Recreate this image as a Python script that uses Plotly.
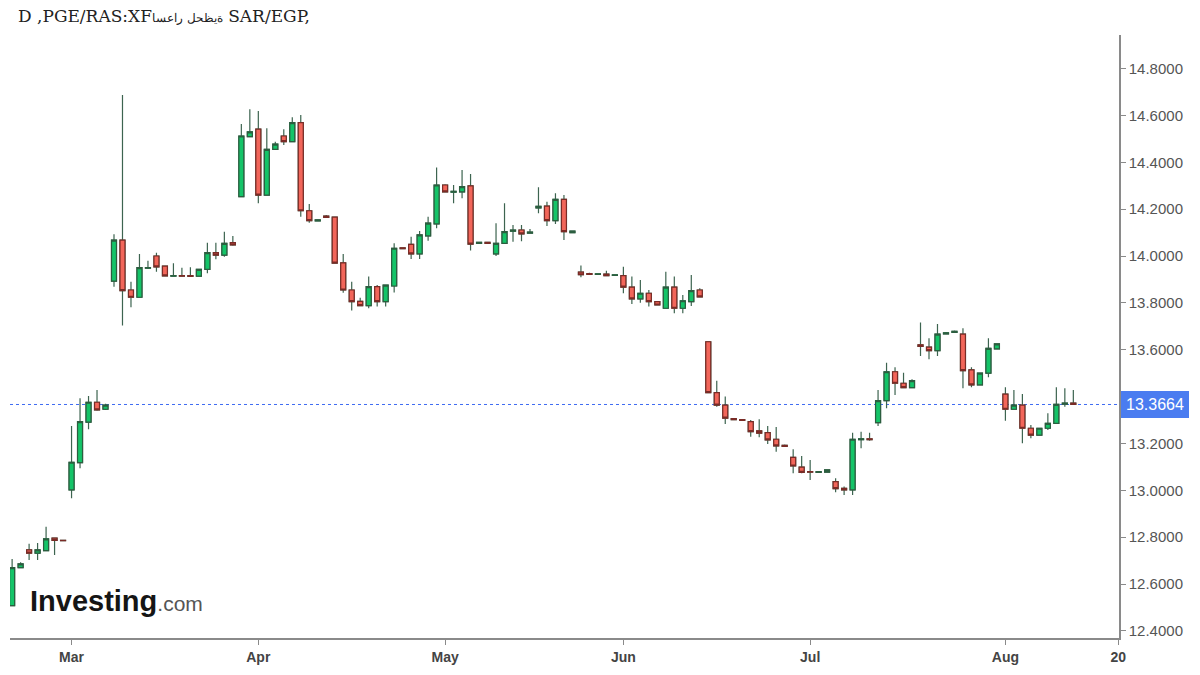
import plotly.graph_objects as go

# Trading-day index (categories) and OHLC values
day = list(range(126))

opens = [
    12.508, 12.670, 12.746, 12.732, 12.743, 12.796, 12.787, 13.002, 13.118, 13.291,
    13.376, 13.346, 13.893, 14.068, 13.855, 13.824, 13.948, 14.000, 13.957, 13.914,
    13.916, 13.916, 13.914, 13.943, 14.014, 14.004, 14.057, 14.253, 14.509, 14.541,
    14.260, 14.455, 14.512, 14.488, 14.569, 14.193, 14.150, 14.170, 14.166, 13.971,
    13.855, 13.806, 13.788, 13.869, 13.805, 13.872, 14.035, 14.050, 14.009, 14.086,
    14.137, 14.303, 14.272, 14.274, 14.299, 14.054, 14.058, 14.009, 14.054, 14.106,
    14.111, 14.098, 14.205, 14.213, 14.151, 14.242, 14.100, 13.931, 13.925, 13.921,
    13.923, 13.917, 13.916, 13.867, 13.817, 13.841, 13.805, 13.777, 13.867, 13.777,
    13.805, 13.855, 13.634, 13.417, 13.364, 13.306, 13.302, 13.293, 13.254, 13.246,
    13.218, 13.192, 13.141, 13.099, 13.080, 13.077, 13.078, 13.037, 13.009, 13.002,
    13.216, 13.220, 13.289, 13.383, 13.506, 13.457, 13.438, 13.621, 13.611, 13.596,
    13.668, 13.674, 13.667, 13.514, 13.450, 13.500, 13.604, 13.411, 13.346, 13.364,
    13.265, 13.236, 13.265, 13.286, 13.368, 13.372,
]
highs = [
    12.707, 12.693, 12.772, 12.775, 12.845, 12.797, 12.788, 13.275, 13.393, 13.403,
    13.428, 13.370, 14.093, 14.687, 13.890, 14.009, 13.980, 14.014, 13.958, 13.969,
    13.950, 13.952, 13.945, 14.057, 14.057, 14.104, 14.085, 14.563, 14.626, 14.619,
    14.545, 14.488, 14.541, 14.592, 14.602, 14.222, 14.155, 14.175, 14.168, 14.009,
    13.890, 13.822, 13.912, 13.876, 13.878, 14.054, 14.036, 14.082, 14.107, 14.168,
    14.378, 14.306, 14.303, 14.367, 14.350, 14.060, 14.060, 14.140, 14.225, 14.132,
    14.132, 14.115, 14.293, 14.232, 14.268, 14.260, 14.108, 13.959, 13.928, 13.926,
    13.937, 13.922, 13.954, 13.912, 13.898, 13.855, 13.806, 13.933, 13.912, 13.834,
    13.919, 13.862, 13.636, 13.468, 13.400, 13.308, 13.303, 13.300, 13.303, 13.275,
    13.270, 13.196, 13.175, 13.147, 13.130, 13.082, 13.090, 13.052, 13.016, 13.246,
    13.250, 13.246, 13.428, 13.545, 13.525, 13.502, 13.474, 13.716, 13.649, 13.710,
    13.676, 13.682, 13.692, 13.525, 13.502, 13.649, 13.627, 13.440, 13.428, 13.411,
    13.279, 13.267, 13.329, 13.440, 13.436, 13.428,
]
lows = [
    12.505, 12.668, 12.703, 12.703, 12.743, 12.724, 12.784, 12.966, 13.094, 13.261,
    13.340, 13.343, 13.869, 13.703, 13.781, 13.824, 13.945, 13.933, 13.914, 13.913,
    13.912, 13.912, 13.912, 13.926, 13.986, 13.997, 14.044, 14.253, 14.508, 14.225,
    14.258, 14.454, 14.474, 14.487, 14.168, 14.142, 14.149, 14.163, 13.968, 13.843,
    13.767, 13.787, 13.777, 13.784, 13.784, 13.844, 14.030, 13.987, 13.987, 14.065,
    14.118, 14.272, 14.225, 14.246, 14.023, 14.052, 14.052, 14.000, 14.051, 14.061,
    14.063, 14.096, 14.182, 14.128, 14.137, 14.068, 14.098, 13.909, 13.919, 13.919,
    13.915, 13.915, 13.841, 13.795, 13.801, 13.784, 13.790, 13.776, 13.756, 13.756,
    13.787, 13.824, 13.415, 13.357, 13.283, 13.300, 13.296, 13.229, 13.227, 13.198,
    13.165, 13.185, 13.073, 13.073, 13.044, 13.075, 13.076, 12.992, 12.980, 12.980,
    13.180, 13.212, 13.275, 13.350, 13.407, 13.436, 13.436, 13.573, 13.559, 13.573,
    13.665, 13.672, 13.436, 13.440, 13.448, 13.483, 13.602, 13.297, 13.345, 13.201,
    13.222, 13.234, 13.258, 13.285, 13.357, 13.364,
]
closes = [
    12.670, 12.686, 12.732, 12.746, 12.793, 12.786, 12.785, 13.120, 13.293, 13.376,
    13.343, 13.364, 14.068, 13.852, 13.824, 13.950, 13.951, 13.954, 13.915, 13.916,
    13.914, 13.913, 13.943, 14.014, 14.004, 14.054, 14.047, 14.512, 14.530, 14.260,
    14.455, 14.477, 14.488, 14.569, 14.193, 14.151, 14.154, 14.165, 13.970, 13.855,
    13.805, 13.788, 13.869, 13.805, 13.876, 14.033, 14.031, 14.009, 14.090, 14.140,
    14.303, 14.274, 14.276, 14.296, 14.051, 14.058, 14.054, 14.054, 14.104, 14.110,
    14.094, 14.102, 14.212, 14.151, 14.242, 14.104, 14.106, 13.920, 13.922, 13.924,
    13.916, 13.920, 13.867, 13.817, 13.841, 13.805, 13.791, 13.867, 13.777, 13.809,
    13.852, 13.826, 13.417, 13.364, 13.308, 13.302, 13.298, 13.251, 13.244, 13.215,
    13.190, 13.188, 13.104, 13.077, 13.078, 13.080, 13.087, 13.007, 13.002, 13.218,
    13.220, 13.216, 13.383, 13.506, 13.457, 13.438, 13.468, 13.614, 13.596, 13.667,
    13.672, 13.679, 13.511, 13.450, 13.500, 13.606, 13.625, 13.346, 13.364, 13.265,
    13.236, 13.265, 13.286, 13.367, 13.372, 13.3664,
]

tick_pos = [7, 29, 51, 72, 94, 117, 130.3]
tick_labels = ["Mar", "Apr", "May", "Jun", "Jul", "Aug", "20"]
y_ticks = [12.4, 12.6, 12.8, 13.0, 13.2, 13.4, 13.6, 13.8, 14.0, 14.2, 14.4, 14.6, 14.8]

# title as it appears in the reference (Arabic run shown letter-reversed)
title_latin_1 = "D ,PGE/RAS:XF"
title_arabic = "ةيظحل راعسا"
title_latin_2 = " SAR/EGP,"
title_text = (title_latin_1 + "<span style='font-size:12px'>" + title_arabic + "</span>"
              + title_latin_2)

WICK = "#3d6450"
GREEN_FILL, GREEN_LINE = "#14c468", "#2b5e3f"
RED_FILL, RED_LINE = "#f2665a", "#7a2b26"

body_hi = [max(o, c) for o, c in zip(opens, closes)]
body_lo = [min(o, c) for o, c in zip(opens, closes)]

fig = go.Figure()
# wicks
fig.add_trace(go.Candlestick(
    x=day, open=opens, high=highs, low=lows, close=closes,
    increasing=dict(line=dict(color=WICK, width=1.2), fillcolor=GREEN_FILL),
    decreasing=dict(line=dict(color=WICK, width=1.2), fillcolor=RED_FILL),
    whiskerwidth=0, showlegend=False, hoverinfo="skip",
))
# bodies
fig.add_trace(go.Candlestick(
    x=day, open=opens, high=body_hi, low=body_lo, close=closes,
    increasing=dict(line=dict(color=GREEN_LINE, width=1.2), fillcolor=GREEN_FILL),
    decreasing=dict(line=dict(color=RED_LINE, width=1.2), fillcolor=RED_FILL),
    whiskerwidth=0, showlegend=False,
))

last = closes[-1]
fig.add_shape(type="line", xref="paper", x0=0, x1=1, yref="y", y0=last, y1=last,
              line=dict(color="#3f6cf2", width=1, dash="dot"), layer="below")
fig.add_annotation(xref="paper", x=1.0, yref="y", y=last, text=f"{last:.4f}",
                   showarrow=False, xanchor="left", yanchor="middle", xshift=2,
                   bgcolor="#4a7cf0", bordercolor="#4a7cf0", borderpad=4,
                   font=dict(family="Liberation Sans, Arial", size=16, color="white"))

fig.add_annotation(xref="paper", yref="paper", x=(28 - 10) / 1109, y=(638 - 601) / 603,
                   xanchor="left", yanchor="middle", showarrow=False,
                   text="<b>Investing</b><span style='font-size:21px;color:#555555'>.com</span>",
                   font=dict(family="Liberation Sans, Arial", size=29, color="#151515"))

fig.update_layout(
    width=1200, height=675,
    margin=dict(l=10, r=81, t=35, b=37, autoexpand=False),
    paper_bgcolor="white", plot_bgcolor="white",
    boxmode="overlay", boxgap=0.16,
    title=dict(text=title_text, xref="container", yref="container",
               x=18 / 1200, y=1 - 16 / 675, xanchor="left", yanchor="middle",
               pad=dict(l=0, r=0, t=0, b=0),
               font=dict(family="DejaVu Serif", size=17, color="#222222")),
    xaxis=dict(range=[-0.25, 130.38], rangeslider=dict(visible=False), automargin=False,
               tickmode="array", tickvals=tick_pos,
               ticktext=[f"<b>{t}</b>" for t in tick_labels],
               showgrid=False, zeroline=False, showline=True, linecolor="#8a8a8a",
               linewidth=1.5, ticks="outside", ticklen=5, tickcolor="#8a8a8a",
               tickfont=dict(family="Liberation Sans, Arial", size=14, color="#444444"),
               fixedrange=True),
    yaxis=dict(side="right", range=[12.370, 14.943], tickmode="array", automargin=False,
               tickvals=y_ticks, tickformat=".4f", showgrid=False, zeroline=False,
               showline=True, linecolor="#8a8a8a", linewidth=1.5, ticks="outside",
               ticklen=5, tickcolor="#8a8a8a",
               tickfont=dict(family="Liberation Sans, Arial", size=15, color="#555555")),
)

fig.write_html("out.html", config={"displayModeBar": False},
               post_script="document.body.style.margin='0';")
